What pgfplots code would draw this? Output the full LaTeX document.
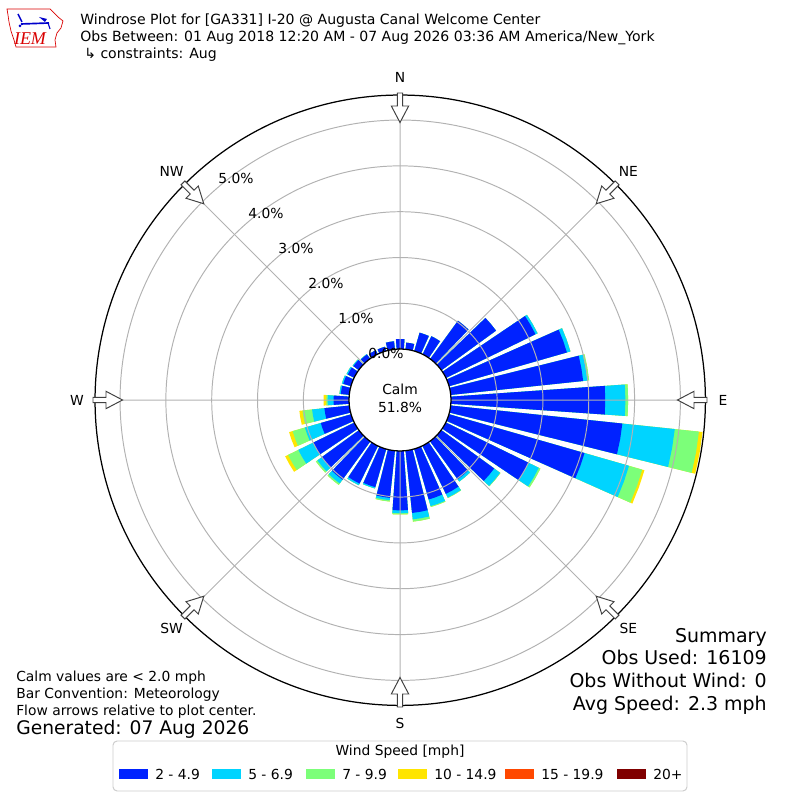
\documentclass[border=0pt]{standalone}
\usepackage{fontspec}
\setmainfont{DejaVu Sans}
\newfontfamily\logofont{Liberation Serif}
\usepackage{pgfplots}
\usepackage{pgfplotstable}
\pgfplotsset{compat=1.18}
\usepgfplotslibrary{polar}

\definecolor{wb}{RGB}{0,34,255}
\definecolor{wc}{RGB}{0,212,255}
\definecolor{wg}{RGB}{124,255,121}
\definecolor{wy}{RGB}{255,229,0}
\definecolor{wo}{RGB}{255,72,0}
\definecolor{wm}{RGB}{128,0,0}

% cumulative outer edge (percent) of each speed class, by compass direction
\pgfplotstableread{
dir cb cc cg cy
0   0.22 0.22 0.22 0.22
10  0.15 0.15 0.15 0.15
20  0.42 0.42 0.42 0.42
30  0.44 0.44 0.44 0.44
40  1.03 1.03 1.03 1.03
50  1.47 1.47 1.47 1.47
60  2.17 2.22 2.22 2.22
70  2.67 2.75 2.75 2.75
80  2.90 2.99 3.03 3.03
90  3.36 3.80 3.86 3.86
100 3.76 4.91 5.44 5.52
110 3.07 4.08 4.38 4.43
120 2.00 2.25 2.29 2.29
130 1.42 1.58 1.59 1.59
140 1.02 1.08 1.08 1.08
150 1.16 1.25 1.26 1.26
160 1.14 1.29 1.31 1.31
170 1.36 1.50 1.55 1.55
180 1.29 1.35 1.38 1.38
190 1.03 1.08 1.11 1.11
200 0.86 0.89 0.89 0.89
210 0.91 0.95 0.95 0.95
220 1.03 1.13 1.17 1.17
230 1.00 1.12 1.16 1.16
240 1.00 1.36 1.61 1.68
250 0.69 1.05 1.33 1.41
260 0.55 0.82 1.03 1.10
270 0.34 0.47 0.50 0.56
280 0.19 0.22 0.22 0.22
290 0.18 0.21 0.21 0.21
300 0.16 0.19 0.19 0.19
310 0.15 0.17 0.17 0.17
320 0.12 0.13 0.13 0.13
330 0.10 0.10 0.10 0.10
340 0.10 0.10 0.10 0.10
350 0.18 0.18 0.18 0.18
}\roses

\def\roff{1.1135}

\begin{document}
\begin{tikzpicture}
\begin{polaraxis}[
  at={(4in,4in)}, anchor=center,
  scale only axis, width=6.1in, height=6.1in,
  ymin=0, ymax=6.659,
  xtick={0,45,...,315}, xticklabels={},
  ytick={2.1135,3.1135,4.1135,5.1135,6.1135}, yticklabels={},
  xmajorgrids, ymajorgrids,
  major grid style={color=black!30, line width=0.7pt},
  axis line style={black, line width=0.9pt},
  y axis line style={draw=none},
  major tick length=0pt,
  axis on top, clip=false,
]
\pgfplotstablegetrowsof{\roses}
\pgfmathtruncatemacro\N{\pgfplotsretval-1}
\foreach \i in {0,...,\N}{
  \pgfplotstablegetelem{\i}{dir}\of\roses
  \pgfmathsetmacro\dd{90-\pgfplotsretval}
  \pgfmathsetmacro\aL{\dd-4}
  \pgfmathsetmacro\aR{\dd+4}
  \foreach \col/\clr in {cy/wy,cg/wg,cc/wc,cb/wb}{
    \pgfplotstablegetelem{\i}{\col}\of\roses
    \pgfmathsetmacro\R{\pgfplotsretval+\roff}
    \edef\temp{\noexpand\addplot[draw=none,fill=\clr] coordinates {(\aL,\roff) (\aL,\R) (\dd,\R) (\aR,\R) (\aR,\roff)};}
    \temp
  }
}
\end{polaraxis}

\begin{scope}[shift={(0,8in)}, x=0.01in, y=-0.01in]
\path[use as bounding box] (0,0) rectangle (800,800);
% calm circle
\draw[black, line width=0.9pt, fill=white] (400,400) circle (51);
\node[font=\fontsize{10}{12}\selectfont] at (400,389) {Calm};
\node[font=\fontsize{10}{12}\selectfont] at (400,407) {51.8\%};
% ring labels
\foreach \k/\t in {0/0.0,1/1.0,2/2.0,3/3.0,4/4.0,5/5.0}{
  \node[font=\fontsize{10}{12}\selectfont] at ({386-30*\k},{353-35*\k}) {\t\%};
}
% arrows
\foreach \a in {0,45,...,315}{
  \draw[black!75, line width=0.7pt, fill=white, rotate around={-\a:(400,400)}]
    (400,122.5) -- (391.3,106) -- (397.3,106) -- (397.3,93) -- (402.7,93) -- (402.7,106) -- (408.7,106) -- cycle;
}
% direction labels
\foreach \a/\t in {0/N,45/NE,90/E,135/SE,180/S,225/SW,270/W,315/NW}{
  \node[font=\fontsize{10}{12}\selectfont] at ({400+323*sin(\a)},{400-323*cos(\a)}) {\t};
}
% title
\node[anchor=base west, font=\fontsize{10.15}{12}\selectfont, inner sep=0] at (80,25) {Windrose Plot for [GA331] I-20 @ Augusta Canal Welcome Center};
\node[anchor=base west, font=\fontsize{10.15}{12}\selectfont, inner sep=0] at (80,42) {Obs Between: 01 Aug 2018 12:20 AM - 07 Aug 2026 03:36 AM America/New\_York};
\node[anchor=base west, font=\fontsize{10.15}{12}\selectfont, inner sep=0] at (84,59) {↳ constraints: Aug};
% logo
\draw[red!85!black, line width=0.5pt] (7,9) -- (50,9) -- (54,13) -- (58,17) -- (63,21) -- (61,28) -- (57,33) -- (55,40) -- (56,47) -- (16,47) -- (14,40) -- (11,31) -- (9,22) -- (8,15) -- cycle;
\draw[blue!80!black, line width=1.2pt] (21,24) -- (49,23);
\draw[blue!80!black, line width=1pt] (18,14) -- (22,22);
\fill[blue!80!black] (39,17) -- (47,19) -- (45,22) -- cycle;
\fill[blue!80!black] (20,26) circle (1.5);
\draw[blue!80!black, line width=0.8pt] (48,23) -- (50,29);
\node[font=\logofont\itshape\fontsize{13}{14}\selectfont, text=red!85!black, inner sep=0] at (30,39) {IEM};
% notes bottom left
\node[anchor=base west, font=\fontsize{10}{12}\selectfont, inner sep=0] at (16,681.7) {Calm values are < 2.0 mph};
\node[anchor=base west, font=\fontsize{10}{12}\selectfont, inner sep=0] at (16,699) {Bar Convention: Meteorology};
\node[anchor=base west, font=\fontsize{10}{12}\selectfont, inner sep=0] at (16,716) {Flow arrows relative to plot center.};
\node[anchor=base west, font=\fontsize{13.5}{15}\selectfont, inner sep=0] at (16,734.5) {Generated: 07 Aug 2026};
% summary
\node[anchor=base east, font=\fontsize{13.7}{15}\selectfont, inner sep=0] at (767,642.7) {Summary};
\node[anchor=base east, font=\fontsize{13.7}{15}\selectfont, inner sep=0] at (767,665) {Obs Used: 16109};
\node[anchor=base east, font=\fontsize{13.7}{15}\selectfont, inner sep=0] at (767,687.3) {Obs Without Wind: 0};
\node[anchor=base east, font=\fontsize{13.7}{15}\selectfont, inner sep=0] at (767,710.5) {Avg Speed: 2.3 mph};
% legend
\draw[black!20, line width=0.7pt, fill=white, rounded corners=3] (113,741) rectangle (687,791);
\node[font=\fontsize{10}{12}\selectfont] at (400,752) {Wind Speed [mph]};
\foreach \x/\c/\t in {119/wb/2 - 4.9,212/wc/5 - 6.9,306/wg/7 - 9.9,398/wy/10 - 14.9,505/wo/15 - 19.9,617/wm/20+}{
  \fill[\c] (\x,769) rectangle ({\x+29},779);
  \node[anchor=base west, font=\fontsize{10}{12}\selectfont, inner sep=0] at ({\x+36},779) {\t};
}
\end{scope}
\end{tikzpicture}
\end{document}
